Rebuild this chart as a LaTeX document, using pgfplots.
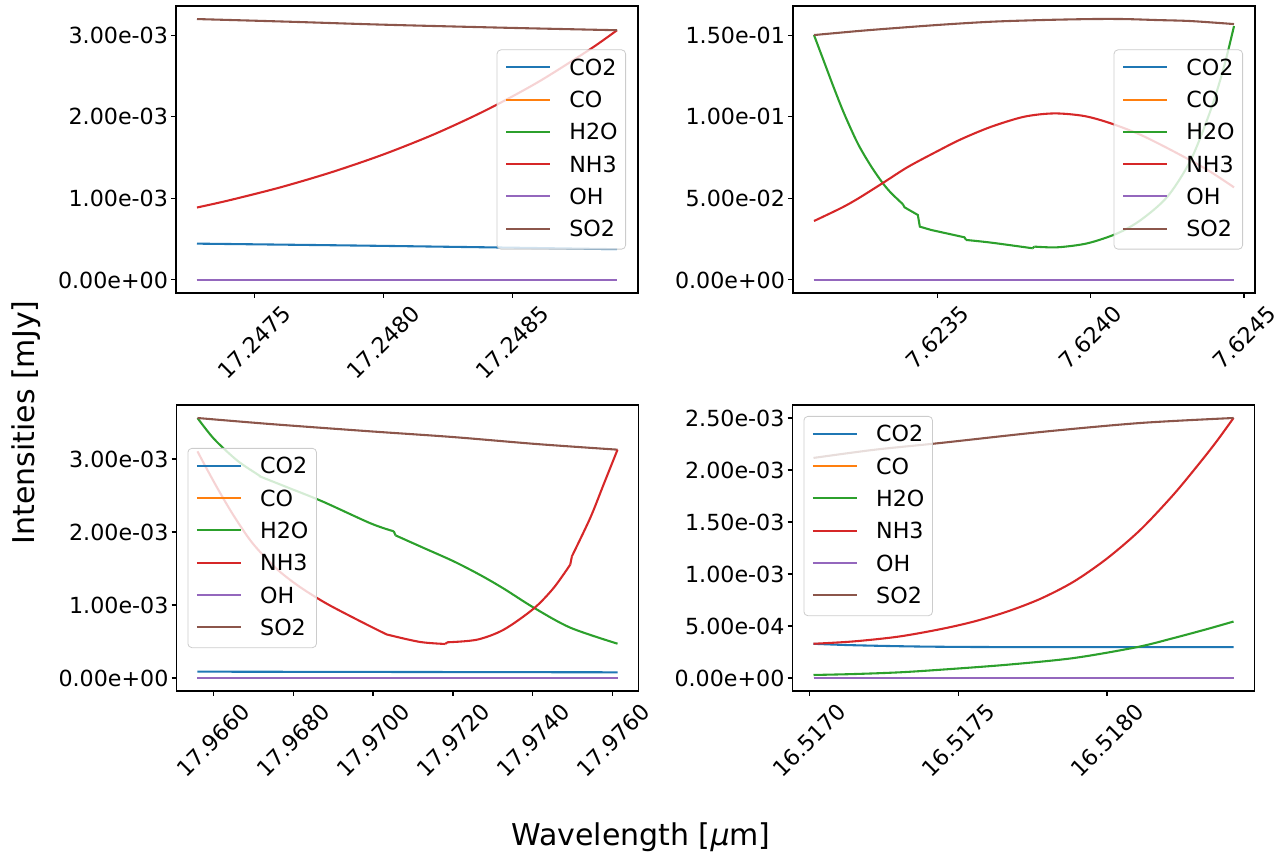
\documentclass[border=0pt]{standalone}
\usepackage{pgfplots}
\pgfplotsset{compat=1.18}
\usepackage{graphicx}
\usepackage{fontspec}
\setmainfont{DejaVu Sans}
\definecolor{c0}{HTML}{1F77B4}
\definecolor{c1}{HTML}{FF7F0E}
\definecolor{c2}{HTML}{2CA02C}
\definecolor{c3}{HTML}{D62728}
\definecolor{c4}{HTML}{9467BD}
\definecolor{c5}{HTML}{8C564B}
\newcommand{\tickfont}{\fontsize{11.1}{13.3}\selectfont}
\newcommand{\labelfont}{\fontsize{15}{18}\selectfont}
\newcommand{\R}[1]{\rotatebox{45}{#1}}
\pgfplotsset{
  panel/.style={
    scale only axis, width=231pt, height=143.5pt, anchor=south west,
    axis line style={line width=0.55pt},
    tick align=outside, major tick length=2.43pt,
    every tick/.style={black, line width=0.55pt},
    xtick pos=left, ytick pos=left,
    scaled x ticks=false, scaled y ticks=false,
    tick label style={font=\tickfont},
    xticklabel style={anchor=north, inner sep=0pt, yshift=-2.6pt},
    yticklabel style={anchor=east, inner sep=0pt, xshift=-1.4pt},
    legend cell align=left,
    legend style={font=\tickfont, draw=black!20, fill=white, fill opacity=0.8, draw opacity=1, text opacity=1,
      rounded corners=2pt, inner xsep=4pt, inner ysep=4.65pt, row sep=6.55pt, column sep=8.9pt,
      nodes={inner sep=0pt, text height=8.1pt, text depth=1.5pt}},
    legend image code/.code={\draw[#1, line width=1.04pt] (0pt,0.75pt) -- (22.2pt,0.75pt);},
    every axis plot/.append style={line width=1.04pt},
  }
}
\begin{document}
\begin{tikzpicture}
\useasboundingbox (0,0) rectangle (640pt,426pt);
% ---------------- top left
\begin{axis}[panel, at={(88pt,279.5pt)},
  xmin=1.954, xmax=19.866, ymin=-0.16e-3, ymax=3.358e-3,
  xtick={5,10,15}, xticklabels={\R{17.2475},\R{17.2480},\R{17.2485}},
  ytick={0,1e-3,2e-3,3e-3}, yticklabels={0.00e+00,1.00e-03,2.00e-03,3.00e-03},
  legend style={at={(1,0.5)}, anchor=east, xshift=-6pt}]
\addplot[c0, smooth] coordinates {(2.768,0.445e-3) (10,0.4175e-3) (19.052,0.377e-3)};
\addplot[c1] coordinates {(2.768,0) (19.052,0)};
\addplot[c2] coordinates {(2.768,0) (19.052,0)};
\addplot[c3, smooth] coordinates {(2.768,0.888e-3) (4,0.975e-3) (6,1.135e-3) (8,1.322e-3) (10,1.539e-3) (12,1.791e-3) (14,2.085e-3) (16,2.427e-3) (18,2.826e-3) (19.052,3.061e-3)};
\addplot[c4] coordinates {(2.768,0) (19.052,0)};
\addplot[c5, smooth] coordinates {(2.768,3.198e-3) (6.38,3.165e-3) (10,3.129e-3) (14.64,3.092e-3) (19.052,3.061e-3)};
\legend{CO2,CO,H2O,NH3,OH,SO2}
\end{axis}
% ---------------- top right
\begin{axis}[panel, at={(396.5pt,279.5pt)},
  xmin=0.303, xmax=15.359, ymin=-0.008, ymax=0.1678,
  xtick={5,10,15}, xticklabels={\R{7.6235},\R{7.6240},\R{7.6245}},
  ytick={0,0.05,0.1,0.15}, yticklabels={0.00e+00,5.00e-02,1.00e-01,1.50e-01},
  legend style={at={(1,0.5)}, anchor=east, xshift=-6pt}]
\addplot[c0] coordinates {(0.987,0) (14.675,0)};
\addplot[c1] coordinates {(0.987,0) (14.675,0)};
\addplot[c2, smooth] coordinates {(0.987,0.15) (1.334,0.1327) (1.659,0.1165) (1.985,0.1012) (2.419,0.0834) (2.852,0.0695) (3.232,0.0592) (3.503,0.0532) (3.883,0.0464)};
\addplot[c3, smooth] coordinates {(0.987,0.0361) (1.876,0.0441) (2.419,0.0498) (3.232,0.0594) (4.046,0.0692) (5.022,0.0790) (5.781,0.0862) (6.757,0.0938) (7.842,0.1000) (8.818,0.1020) (9.794,0.1004) (10.662,0.0959) (11.638,0.0888) (12.722,0.0786) (13.807,0.0674) (14.675,0.0567)};
\addplot[c4] coordinates {(0.987,0) (14.675,0)};
\addplot[c5, smooth] coordinates {(0.987,0.15) (2.419,0.15245) (3.503,0.15408) (5.130,0.15633) (6.757,0.15816) (8.384,0.15918) (10.011,0.1598) (11.095,0.1598) (12.180,0.15918) (13.265,0.15857) (14.675,0.15673)};
\addplot[c2, forget plot] coordinates {(3.883,0.0464) (3.937,0.04449) (4.371,0.0398) (4.436,0.03265) (4.805,0.03061) (5.889,0.02612) (5.944,0.02449)};
\addplot[c2, smooth, forget plot] coordinates {(5.944,0.02449) (6.757,0.02286) (8.113,0.01939)};
\addplot[c2, forget plot] coordinates {(8.113,0.01939) (8.167,0.02041)};
\addplot[c2, smooth, forget plot] coordinates {(8.167,0.02041) (8.926,0.02) (9.902,0.02245) (10.879,0.02857) (11.638,0.03673) (12.505,0.05102) (13.265,0.07347) (13.915,0.10408) (14.349,0.13061) (14.675,0.15551)};
\legend{CO2,CO,H2O,NH3,OH,SO2}
\end{axis}
% ---------------- bottom left
\begin{axis}[panel, at={(88.25pt,80.5pt)}, height=143pt,
  xmin=5.084, xmax=16.642, ymin=-0.178e-3, ymax=3.740e-3,
  xtick={6,8,10,12,14,16}, xticklabels={\R{17.9660},\R{17.9680},\R{17.9700},\R{17.9720},\R{17.9740},\R{17.9760}},
  ytick={0,1e-3,2e-3,3e-3}, yticklabels={0.00e+00,1.00e-03,2.00e-03,3.00e-03},
  legend style={at={(0,0.5)}, anchor=west, xshift=5.5pt}]
\addplot[c0] coordinates {(5.609,0.087e-3) (16.117,0.078e-3)};
\addplot[c1] coordinates {(5.609,0) (16.117,0)};
\addplot[c2, smooth] coordinates {(5.609,3.562e-3) (6.025,3.274e-3) (6.608,2.977e-3) (7.149,2.776e-3) (7.191,2.758e-3) (7.857,2.612e-3) (8.731,2.42e-3) (9.938,2.119e-3) (10.521,2.009e-3)};
\addplot[c3, smooth] coordinates {(5.609,3.105e-3) (5.817,2.89e-3) (6.15,2.56e-3) (6.525,2.215e-3) (6.983,1.849e-3) (7.565,1.507e-3) (8.148,1.256e-3) (8.814,1.027e-3) (9.605,0.799e-3) (10.271,0.616e-3) (10.438,0.584e-3) (11.187,0.493e-3) (11.812,0.466e-3)};
\addplot[c4] coordinates {(5.609,0) (16.117,0)};
\addplot[c5, smooth] coordinates {(5.609,3.562e-3) (7.44,3.479e-3) (9.938,3.379e-3) (12.003,3.301e-3) (14.101,3.205e-3) (16.117,3.128e-3)};
\addplot[c2, forget plot] coordinates {(10.521,2.009e-3) (10.563,1.954e-3)};
\addplot[c2, smooth, forget plot] coordinates {(10.563,1.954e-3) (11.271,1.781e-3) (12.02,1.598e-3) (12.686,1.41e-3) (13.269,1.225e-3) (14.018,0.965e-3) (14.934,0.69e-3) (16.117,0.47e-3)};
\addplot[c3, forget plot] coordinates {(11.812,0.466e-3) (11.853,0.489e-3)};
\addplot[c3, smooth, forget plot] coordinates {(11.853,0.489e-3) (12.603,0.525e-3) (13.269,0.662e-3) (14.018,0.95e-3) (14.518,1.233e-3) (14.934,1.553e-3)};
\addplot[c3, forget plot] coordinates {(14.934,1.553e-3) (14.976,1.667e-3)};
\addplot[c3, smooth, forget plot] coordinates {(14.976,1.667e-3) (15.434,2.192e-3) (15.767,2.648e-3) (16.117,3.128e-3)};
\legend{CO2,CO,H2O,NH3,OH,SO2}
\end{axis}
% ---------------- bottom right
\begin{axis}[panel, at={(396.25pt,80.5pt)}, height=143pt,
  xmin=9.44, xmax=24.951, ymin=-0.125e-3, ymax=2.625e-3,
  xtick={10,15,20}, xticklabels={\R{16.5170},\R{16.5175},\R{16.5180}},
  ytick={0,0.5e-3,1e-3,1.5e-3,2e-3,2.5e-3}, yticklabels={0.00e+00,5.00e-04,1.00e-03,1.50e-03,2.00e-03,2.50e-03},
  legend style={at={(0,1)}, anchor=north west, xshift=5.5pt, yshift=-5.5pt}]
\addplot[c0, smooth] coordinates {(10.145,0.329e-3) (11.5,0.315e-3) (13.855,0.302e-3) (17,0.297e-3) (24.246,0.297e-3)};
\addplot[c1] coordinates {(10.145,0) (24.246,0)};
\addplot[c2, smooth] coordinates {(10.145,0.029e-3) (11.5,0.038e-3) (13,0.054e-3) (14.415,0.0796e-3) (16.651,0.1276e-3) (18.884,0.192e-3) (21.009,0.297e-3) (22.236,0.384e-3) (23.355,0.47e-3) (24.247,0.543e-3)};
\addplot[c3, smooth] coordinates {(10.145,0.329e-3) (11.5,0.352e-3) (13,0.398e-3) (14.415,0.47e-3) (15.532,0.543e-3) (16.651,0.639e-3) (17.767,0.762e-3) (18.884,0.927e-3) (20.003,1.15e-3) (21.12,1.425e-3) (22.236,1.765e-3) (23.131,2.075e-3) (23.691,2.28e-3) (24.247,2.5e-3)};
\addplot[c4] coordinates {(10.145,0) (24.246,0)};
\addplot[c5, smooth] coordinates {(10.145,2.116e-3) (12.2,2.195e-3) (14.415,2.26e-3) (17.767,2.365e-3) (21.12,2.452e-3) (24.247,2.5e-3)};
\legend{CO2,CO,H2O,NH3,OH,SO2}
\end{axis}
\node[rotate=90, anchor=base, font=\labelfont] at (17.5pt,214.75pt) {Intensities [mJy]};
\node[anchor=base, font=\labelfont] at (320.5pt,3.5pt) {Wavelength [\textit{μ}m]};
\end{tikzpicture}
\end{document}
